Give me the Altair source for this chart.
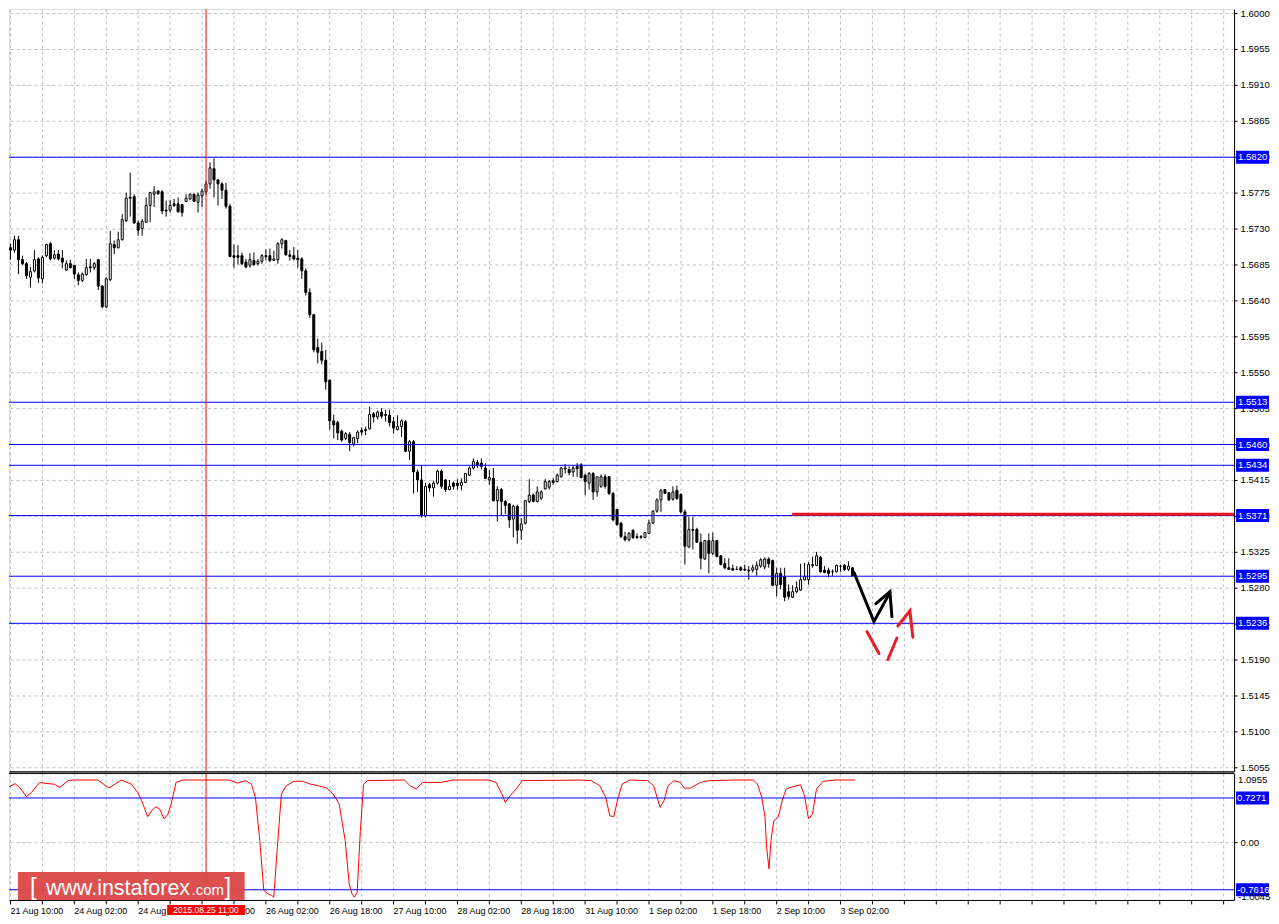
import json
import altair as alt
import pandas as pd

FONT = "Liberation Sans"

# ---------------- candle data (H1 bars, first bar = index -2) ----------------
FIRST_BAR = -2
OPEN = [
    1.5693, 1.5700, 1.5706, 1.5703, 1.5716, 1.5691, 1.5686, 1.5669, 1.5677, 1.5692,
    1.5667, 1.5696, 1.5711, 1.5693, 1.5698, 1.5693, 1.5678, 1.5686, 1.5684, 1.5672,
    1.5665, 1.5672, 1.5682, 1.5681, 1.5691, 1.5658, 1.5632, 1.5666, 1.5710, 1.5706,
    1.5716, 1.5740, 1.5769, 1.5770, 1.5737, 1.5730, 1.5738, 1.5759, 1.5773, 1.5777,
    1.5776, 1.5753, 1.5753, 1.5761, 1.5761, 1.5760, 1.5764, 1.5767, 1.5773, 1.5763,
    1.5771, 1.5776, 1.5786, 1.5805, 1.5791, 1.5786, 1.5778, 1.5758, 1.5696, 1.5696,
    1.5696, 1.5688, 1.5684, 1.5690, 1.5686, 1.5689, 1.5696, 1.5696, 1.5690, 1.5691,
    1.5711, 1.5715, 1.5697, 1.5696, 1.5693, 1.5692, 1.5677, 1.5650, 1.5622, 1.5581,
    1.5576, 1.5565, 1.5540, 1.5489, 1.5487, 1.5476, 1.5467, 1.5472, 1.5460, 1.5467,
    1.5477, 1.5478, 1.5479, 1.5498, 1.5494, 1.5500, 1.5497, 1.5496, 1.5488, 1.5478,
    1.5482, 1.5488, 1.5451, 1.5463, 1.5425, 1.5415, 1.5370, 1.5409, 1.5405, 1.5411,
    1.5426, 1.5415, 1.5403, 1.5411, 1.5411, 1.5408, 1.5412, 1.5421, 1.5430, 1.5437,
    1.5436, 1.5430, 1.5415, 1.5417, 1.5389, 1.5403, 1.5388, 1.5385, 1.5366, 1.5382,
    1.5352, 1.5361, 1.5388, 1.5396, 1.5388, 1.5392, 1.5404, 1.5406, 1.5414, 1.5413,
    1.5419, 1.5429, 1.5428, 1.5425, 1.5432, 1.5434, 1.5421, 1.5411, 1.5423, 1.5400,
    1.5407, 1.5419, 1.5419, 1.5398, 1.5378, 1.5361, 1.5344, 1.5340, 1.5352, 1.5344,
    1.5344, 1.5343, 1.5348, 1.5361, 1.5376, 1.5390, 1.5403, 1.5399, 1.5391, 1.5402,
    1.5397, 1.5375, 1.5331, 1.5353, 1.5353, 1.5337, 1.5316, 1.5339, 1.5323, 1.5339,
    1.5320, 1.5310, 1.5305, 1.5304, 1.5303, 1.5305, 1.5303, 1.5302, 1.5302, 1.5303,
    1.5307, 1.5306, 1.5316, 1.5314, 1.5283, 1.5298, 1.5294, 1.5275, 1.5268, 1.5275,
    1.5277, 1.5290, 1.5290, 1.5309, 1.5308, 1.5318, 1.5302, 1.5302, 1.5300, 1.5300,
    1.5307, 1.5308, 1.5303, 1.5305,
]
HIGH = [
    1.5700, 1.5721, 1.5711, 1.5721, 1.5721, 1.5696, 1.5688, 1.5682, 1.5703, 1.5694,
    1.5696, 1.5711, 1.5713, 1.5703, 1.5703, 1.5703, 1.5690, 1.5691, 1.5684, 1.5675,
    1.5675, 1.5692, 1.5692, 1.5688, 1.5692, 1.5659, 1.5669, 1.5727, 1.5715, 1.5726,
    1.5748, 1.5775, 1.5800, 1.5773, 1.5740, 1.5742, 1.5769, 1.5776, 1.5783, 1.5778,
    1.5778, 1.5765, 1.5766, 1.5767, 1.5769, 1.5761, 1.5773, 1.5774, 1.5774, 1.5775,
    1.5780, 1.5790, 1.5813, 1.5818, 1.5792, 1.5788, 1.5787, 1.5761, 1.5710, 1.5709,
    1.5700, 1.5692, 1.5699, 1.5700, 1.5692, 1.5698, 1.5704, 1.5705, 1.5702, 1.5713,
    1.5718, 1.5716, 1.5703, 1.5707, 1.5703, 1.5694, 1.5680, 1.5655, 1.5623, 1.5592,
    1.5587, 1.5578, 1.5541, 1.5497, 1.5489, 1.5478, 1.5475, 1.5475, 1.5469, 1.5477,
    1.5481, 1.5482, 1.5507, 1.5500, 1.5502, 1.5505, 1.5503, 1.5503, 1.5494, 1.5496,
    1.5491, 1.5490, 1.5465, 1.5465, 1.5428, 1.5433, 1.5411, 1.5411, 1.5414, 1.5428,
    1.5428, 1.5416, 1.5415, 1.5413, 1.5416, 1.5417, 1.5424, 1.5432, 1.5442, 1.5440,
    1.5442, 1.5436, 1.5428, 1.5430, 1.5407, 1.5405, 1.5390, 1.5386, 1.5384, 1.5384,
    1.5367, 1.5390, 1.5416, 1.5398, 1.5407, 1.5402, 1.5416, 1.5415, 1.5417, 1.5423,
    1.5431, 1.5435, 1.5432, 1.5433, 1.5436, 1.5436, 1.5423, 1.5425, 1.5425, 1.5419,
    1.5422, 1.5422, 1.5420, 1.5400, 1.5378, 1.5362, 1.5350, 1.5350, 1.5353, 1.5348,
    1.5346, 1.5350, 1.5365, 1.5377, 1.5392, 1.5404, 1.5403, 1.5400, 1.5407, 1.5408,
    1.5398, 1.5378, 1.5369, 1.5369, 1.5355, 1.5348, 1.5340, 1.5348, 1.5349, 1.5340,
    1.5321, 1.5317, 1.5317, 1.5309, 1.5307, 1.5307, 1.5309, 1.5307, 1.5309, 1.5313,
    1.5317, 1.5318, 1.5318, 1.5315, 1.5305, 1.5305, 1.5305, 1.5284, 1.5283, 1.5288,
    1.5310, 1.5311, 1.5312, 1.5319, 1.5325, 1.5320, 1.5307, 1.5305, 1.5303, 1.5309,
    1.5309, 1.5310, 1.5313, 1.5306,
]
LOW = [
    1.5690, 1.5699, 1.5691, 1.5700, 1.5673, 1.5684, 1.5667, 1.5656, 1.5675, 1.5662,
    1.5661, 1.5694, 1.5690, 1.5691, 1.5690, 1.5680, 1.5677, 1.5680, 1.5667, 1.5659,
    1.5663, 1.5671, 1.5675, 1.5678, 1.5653, 1.5630, 1.5630, 1.5664, 1.5698, 1.5705,
    1.5715, 1.5738, 1.5745, 1.5736, 1.5721, 1.5721, 1.5737, 1.5738, 1.5757, 1.5772,
    1.5748, 1.5745, 1.5750, 1.5757, 1.5750, 1.5745, 1.5763, 1.5766, 1.5763, 1.5750,
    1.5757, 1.5772, 1.5780, 1.5769, 1.5759, 1.5767, 1.5755, 1.5694, 1.5681, 1.5685,
    1.5684, 1.5680, 1.5681, 1.5683, 1.5684, 1.5686, 1.5690, 1.5688, 1.5690, 1.5686,
    1.5705, 1.5696, 1.5690, 1.5690, 1.5681, 1.5667, 1.5646, 1.5618, 1.5575, 1.5561,
    1.5560, 1.5528, 1.5478, 1.5467, 1.5465, 1.5463, 1.5465, 1.5451, 1.5457, 1.5461,
    1.5471, 1.5471, 1.5478, 1.5487, 1.5491, 1.5492, 1.5488, 1.5482, 1.5473, 1.5477,
    1.5469, 1.5450, 1.5440, 1.5398, 1.5400, 1.5368, 1.5368, 1.5400, 1.5394, 1.5409,
    1.5404, 1.5400, 1.5402, 1.5403, 1.5403, 1.5402, 1.5411, 1.5420, 1.5428, 1.5430,
    1.5428, 1.5416, 1.5409, 1.5388, 1.5363, 1.5371, 1.5372, 1.5355, 1.5343, 1.5335,
    1.5340, 1.5359, 1.5386, 1.5387, 1.5387, 1.5390, 1.5403, 1.5403, 1.5409, 1.5412,
    1.5418, 1.5423, 1.5421, 1.5419, 1.5419, 1.5417, 1.5396, 1.5403, 1.5390, 1.5394,
    1.5405, 1.5404, 1.5396, 1.5363, 1.5358, 1.5342, 1.5338, 1.5338, 1.5341, 1.5341,
    1.5341, 1.5342, 1.5347, 1.5360, 1.5374, 1.5375, 1.5398, 1.5389, 1.5389, 1.5390,
    1.5373, 1.5309, 1.5330, 1.5328, 1.5336, 1.5303, 1.5315, 1.5298, 1.5321, 1.5318,
    1.5308, 1.5303, 1.5302, 1.5302, 1.5302, 1.5301, 1.5301, 1.5290, 1.5299, 1.5295,
    1.5305, 1.5303, 1.5305, 1.5282, 1.5269, 1.5278, 1.5263, 1.5265, 1.5267, 1.5273,
    1.5276, 1.5289, 1.5284, 1.5305, 1.5307, 1.5299, 1.5298, 1.5293, 1.5295, 1.5299,
    1.5300, 1.5301, 1.5301, 1.5294,
]
CLOSE = [
    1.5698, 1.5707, 1.5703, 1.5716, 1.5691, 1.5686, 1.5671, 1.5676, 1.5691, 1.5668,
    1.5694, 1.5710, 1.5692, 1.5697, 1.5692, 1.5688, 1.5686, 1.5681, 1.5673, 1.5665,
    1.5673, 1.5681, 1.5681, 1.5686, 1.5658, 1.5632, 1.5667, 1.5711, 1.5706, 1.5716,
    1.5741, 1.5768, 1.5768, 1.5737, 1.5728, 1.5739, 1.5759, 1.5775, 1.5776, 1.5774,
    1.5752, 1.5752, 1.5759, 1.5759, 1.5751, 1.5750, 1.5768, 1.5773, 1.5764, 1.5772,
    1.5777, 1.5786, 1.5806, 1.5791, 1.5786, 1.5778, 1.5758, 1.5695, 1.5694, 1.5694,
    1.5686, 1.5682, 1.5691, 1.5685, 1.5689, 1.5696, 1.5695, 1.5690, 1.5692, 1.5711,
    1.5716, 1.5697, 1.5695, 1.5692, 1.5691, 1.5677, 1.5650, 1.5622, 1.5578, 1.5575,
    1.5565, 1.5538, 1.5489, 1.5484, 1.5474, 1.5465, 1.5473, 1.5462, 1.5468, 1.5475,
    1.5475, 1.5477, 1.5497, 1.5494, 1.5500, 1.5495, 1.5496, 1.5487, 1.5480, 1.5482,
    1.5489, 1.5451, 1.5463, 1.5425, 1.5415, 1.5370, 1.5407, 1.5405, 1.5411, 1.5426,
    1.5407, 1.5403, 1.5407, 1.5407, 1.5408, 1.5412, 1.5423, 1.5430, 1.5438, 1.5433,
    1.5432, 1.5417, 1.5418, 1.5389, 1.5403, 1.5388, 1.5383, 1.5365, 1.5382, 1.5352,
    1.5360, 1.5389, 1.5396, 1.5388, 1.5400, 1.5400, 1.5413, 1.5413, 1.5412, 1.5421,
    1.5430, 1.5430, 1.5424, 1.5430, 1.5429, 1.5418, 1.5413, 1.5423, 1.5400, 1.5419,
    1.5419, 1.5407, 1.5398, 1.5365, 1.5359, 1.5344, 1.5340, 1.5348, 1.5343, 1.5343,
    1.5343, 1.5349, 1.5361, 1.5376, 1.5390, 1.5402, 1.5398, 1.5390, 1.5400, 1.5392,
    1.5375, 1.5332, 1.5353, 1.5352, 1.5337, 1.5317, 1.5339, 1.5323, 1.5339, 1.5319,
    1.5309, 1.5305, 1.5303, 1.5302, 1.5303, 1.5302, 1.5302, 1.5301, 1.5305, 1.5308,
    1.5315, 1.5316, 1.5310, 1.5283, 1.5298, 1.5284, 1.5268, 1.5269, 1.5275, 1.5280,
    1.5290, 1.5294, 1.5309, 1.5308, 1.5320, 1.5300, 1.5299, 1.5298, 1.5300, 1.5308,
    1.5307, 1.5303, 1.5307, 1.5295,
]

# ---------------- axis labels ----------------
PRICE_TICKS = [1.6000, 1.5955, 1.5910, 1.5865, 1.5820, 1.5775, 1.5730, 1.5685,
               1.5640, 1.5595, 1.5550, 1.5505, 1.5460, 1.5415, 1.5370, 1.5325,
               1.5280, 1.5235, 1.5190, 1.5145, 1.5100, 1.5055]
TIME_LABELS = ["21 Aug 10:00", "24 Aug 02:00", "24 Aug 18:00", "25 Aug 10:00",
               "26 Aug 02:00", "26 Aug 18:00", "27 Aug 10:00", "28 Aug 02:00",
               "28 Aug 18:00", "31 Aug 10:00", "1 Sep 02:00", "1 Sep 18:00",
               "2 Sep 10:00", "3 Sep 02:00"]
BARS_PER_LABEL = 16
GRID_BARS = list(range(0, 305, 8))

# ---------------- drawn objects ----------------
H_LEVELS = [1.5820, 1.5513, 1.5460, 1.5434, 1.5371, 1.5295, 1.5236]
RED_LEVEL = 1.5372
RED_START_BAR = 196
VLINE_BAR = 49
VLINE_LABEL = "2015.08.25 11:00"

BLACK_SEG = [0, 0, 0, 1, 1, 1]
BLACK_BAR = [211.5, 216.5, 220.5, 217.0, 220.5, 221.0]
BLACK_PRICE = [1.5299, 1.52375, 1.5274, 1.5260, 1.5275, 1.52438]

RED_SEG = [0, 0, 1, 1, 2, 2, 2]
RED_BAR = [214.75, 217.75, 220.0, 222.25, 222.5, 225.5, 226.25]
RED_PRICE = [1.5225, 1.51975, 1.5190, 1.5217, 1.5232, 1.5251, 1.5218]

# ---------------- indicator ----------------
IND_BAR = [-2.25, -0.7, 1.3, 2.8, 4.1, 5.4, 7.4, 9, 11, 12.5, 14.6, 16, 22, 24.8,
           27.9, 30.4, 32, 33, 34.5, 35.5, 36.5, 37.5, 38.6, 39.6, 40.4, 41.6, 43.2,
           55, 57, 59, 60.5, 61.5, 62.6, 63.6, 64.6, 65.6, 66.1, 67, 68, 69.2, 71.2,
           73.3, 75.3, 77.3, 79.4, 81, 82.5, 84, 85, 85.7, 86.3, 87, 87.8, 88.6, 89.6,
           98.8, 100.3, 101.8, 103.4, 108, 111, 120, 121.8, 123.3, 124.1, 125.3, 126.8,
           128.4, 143, 145.7, 147.8, 149.3, 150.3, 151.3, 152.4, 153.4, 155.4, 159.8,
           161.3, 162.9, 163.9, 164.9, 166.4, 168, 169, 170.5, 173, 175.1, 181.2, 186.3,
           187.3, 188.4, 189.2, 189.6, 190.2, 190.7, 191.4, 192.5, 193.5, 194.5, 196,
           198.1, 199.1, 200.1, 201.1, 202.1, 203.7, 206.7, 211.8]
IND_VAL = [0.62, 0.89, 0.95, 0.86, 0.74, 0.81, 0.97, 0.955, 0.944, 0.89, 1.0, 1.01, 1.01, 0.88,
           1.01, 0.944, 0.81, 0.674, 0.415, 0.51, 0.577, 0.54, 0.378, 0.458, 0.62, 0.97, 1.01,
           1.01, 0.96, 1.0, 0.944, 0.728, 0.027, -0.78, -0.836, -0.863, -0.89, -0.08, 0.78, 0.917, 0.99,
           0.99, 0.944, 0.917, 0.879, 0.78, 0.62, 0.027, -0.674, -0.836, -0.89, -0.81, 0.189, 0.944, 1.0,
           1.01, 0.917, 0.863, 0.971, 0.971, 1.01, 1.01, 0.971, 0.78, 0.647, 0.755, 0.863,
           1.0, 1.01, 1.0, 0.917, 0.728, 0.43, 0.415, 0.728, 0.944, 1.01, 1.0,
           0.917, 0.566, 0.674, 0.917, 1.0, 0.971, 0.879, 0.879, 0.971, 1.0, 1.01, 1.01,
           0.944, 0.728, 0.405, -0.08, -0.43, 0.027, 0.35, 0.405, 0.674, 0.863, 0.9,
           0.933, 0.755, 0.378, 0.458, 0.863, 0.987, 1.01, 1.01]
IND_LEVELS = [0.7271, -0.7616]
IND_TOP_LABEL = "1.0955"
IND_BOTTOM_LABEL = "-1.0045"

WATERMARK = ["[", "www.instaforex", ".com", "]"]
WATERMARK_SIZE = [24, 21.5, 15, 24]

# ---------------- layout ----------------
W = 1228          # plot width  (page x 8 .. 1236)
H_MAIN = 764      # main plot   (page y 8 .. 772)
H_IND = 127       # indicator   (page y 774 .. 901)
GRID = "#c0c0c0"
BLUE = "#0000ff"
RED = "#ff0000"
AX_FS = 9.6

XS = alt.Scale(domain=[-0.25, 306.75], nice=False, zero=False)
YS = alt.Scale(domain=[1.505, 1.6005], nice=False, zero=False)
YI = alt.Scale(domain=[-0.935, 1.1197], nice=False, zero=False)

x_axis_main = alt.Axis(values=GRID_BARS, labels=False, ticks=False, domain=True,
                       domainColor="black", grid=True, gridColor=GRID, gridDash=[3, 3],
                       title=None)
y_axis_main = alt.Axis(orient="right", values=PRICE_TICKS, format=".4f", grid=True,
                       gridColor=GRID, gridDash=[3, 3], tickSize=3, tickColor="black",
                       domainColor="black", labelFont=FONT, labelFontSize=AX_FS,
                       labelColor="black", labelPadding=3, labelOverlap=False,
                       labelBound=False, labelFlush=False, title=None)

label_expr = ("(datum.value % {n} == 0 && datum.value / {n} < {m}) ? {arr}[datum.value / {n}] : ''"
              .format(n=BARS_PER_LABEL, m=len(TIME_LABELS), arr=json.dumps(TIME_LABELS).replace('"', "'")))
x_axis_ind = alt.Axis(values=GRID_BARS, labelExpr=label_expr, tickSize=4, tickColor="black",
                      domainColor="black", grid=True, gridColor=GRID, gridDash=[3, 3],
                      labelAlign="left", labelBaseline="top", labelPadding=3, labelFont=FONT,
                      labelFontSize=9, labelColor="black", labelOverlap=False,
                      labelFlush=False, labelBound=False, title=None)
y_axis_ind = alt.Axis(orient="right", values=[0], format=".2f", grid=True, gridColor=GRID,
                      gridDash=[3, 3], tickSize=3, tickColor="black", domainColor="black",
                      labelFont=FONT, labelFontSize=AX_FS, labelColor="black", labelPadding=3,
                      labelOverlap=False, labelBound=False, labelFlush=False, title=None)


def XM(field="bar"):
    return alt.X(f"{field}:Q", scale=XS, axis=x_axis_main)


def YM(field):
    return alt.Y(f"{field}:Q", scale=YS, axis=y_axis_main)


def XI(field="bar"):
    return alt.X(f"{field}:Q", scale=XS, axis=x_axis_ind)


def YIe(field):
    return alt.Y(f"{field}:Q", scale=YI, axis=y_axis_ind)


# ---------------- tables ----------------
candles = pd.DataFrame({
    "bar": list(range(FIRST_BAR, FIRST_BAR + len(CLOSE))),
    "open": OPEN, "high": HIGH, "low": LOW, "close": CLOSE,
})
levels = pd.DataFrame({"price": H_LEVELS, "label": [f"{v:.4f}" for v in H_LEVELS]})
red_level = pd.DataFrame({"bar": [RED_START_BAR], "bar2": [306.75], "price": [RED_LEVEL]})
vline = pd.DataFrame({"bar": [VLINE_BAR], "label": [VLINE_LABEL]})
black_arrow = pd.DataFrame({"seg": BLACK_SEG, "bar": BLACK_BAR, "price": BLACK_PRICE,
                            "ord": list(range(len(BLACK_BAR)))})
red_arrow = pd.DataFrame({"seg": RED_SEG, "bar": RED_BAR, "price": RED_PRICE,
                          "ord": list(range(len(RED_BAR)))})
ind = pd.DataFrame({"bar": IND_BAR, "val": IND_VAL})
ind_levels = pd.DataFrame({"val": IND_LEVELS, "label": [f"{v:.4f}" for v in IND_LEVELS]})
edge_labels = pd.DataFrame({"label": [IND_TOP_LABEL, IND_BOTTOM_LABEL], "ypos": [7, H_IND - 3]})

# ---------------- main panel ----------------
wicks = alt.Chart(candles).mark_rule(color="black", strokeWidth=1, xOffset=0.5, clip=True).encode(
    x=XM(), y=YM("low"), y2="high:Q")
bodies = alt.Chart(candles).mark_rect(stroke="black", strokeWidth=1, xOffset=-0.5, x2Offset=1.5,
                                      clip=True).encode(
    x=XM(), x2="bar:Q", y=YM("open"), y2="close:Q",
    fill=alt.condition(alt.datum.close >= alt.datum.open, alt.value("white"), alt.value("black")))
hlines = alt.Chart(levels).mark_rule(color=BLUE, strokeWidth=1, yOffset=0.5).encode(y=YM("price"))
redline = alt.Chart(red_level).mark_rule(color="#e8161e", strokeWidth=3).encode(
    x=XM(), x2="bar2:Q", y=YM("price"))
vline_main = alt.Chart(vline).mark_rule(color=RED, strokeWidth=1, xOffset=0.5).encode(x=XM())
arrow_b = alt.Chart(black_arrow).mark_line(color="black", strokeWidth=3, strokeCap="round").encode(
    x=XM(), y=YM("price"), detail="seg:N", order="ord:Q")
arrow_r = alt.Chart(red_arrow).mark_line(color="#ee1c24", strokeWidth=3, strokeCap="round").encode(
    x=XM(), y=YM("price"), detail="seg:N", order="ord:Q")
boxes = alt.Chart(levels).mark_rect(color=BLUE, yOffset=-6, y2Offset=7).encode(
    x=alt.value(W + 2), x2=alt.value(W + 35), y=YM("price"), y2="price:Q")
box_text = alt.Chart(levels).mark_text(color="white", font=FONT, fontSize=AX_FS, align="left",
                                       baseline="middle", yOffset=0.5).encode(
    x=alt.value(W + 4), y=YM("price"), text="label:N")

main = alt.layer(wicks, bodies, hlines, redline, vline_main, arrow_b, arrow_r, boxes, box_text
                 ).properties(width=W, height=H_MAIN)

# ---------------- indicator panel ----------------
top_border = alt.Chart(ind_levels).mark_rule(color="black", strokeWidth=1).encode(
    y=alt.value(0))
ind_line = alt.Chart(ind).mark_line(color=RED, strokeWidth=1, clip=True).encode(
    x=XI(), y=YIe("val"))
ind_hl = alt.Chart(ind_levels).mark_rule(color=BLUE, strokeWidth=1, yOffset=0.5).encode(y=YIe("val"))
vline_ind = alt.Chart(vline).mark_rule(color=RED, strokeWidth=1, xOffset=0.5).encode(x=XI())
ind_boxes = alt.Chart(ind_levels).mark_rect(color=BLUE, yOffset=-6, y2Offset=7).encode(
    x=alt.value(W + 2), x2=alt.value(W + 35), y=YIe("val"), y2="val:Q")
ind_box_text = alt.Chart(ind_levels).mark_text(color="white", font=FONT, fontSize=AX_FS, align="left",
                                               baseline="middle", yOffset=0.5).encode(
    x=alt.value(W + 3), y=YIe("val"), text="label:N")
edge_text = alt.Chart(edge_labels).mark_text(color="black", font=FONT, fontSize=AX_FS, align="left",
                                             baseline="middle").encode(
    x=alt.value(W + 4), y=alt.Y("ypos:Q", scale=None), text="label:N")
date_box = alt.Chart(vline).mark_rect(color=RED, xOffset=-38.5, x2Offset=39.5).encode(
    x=XI(), x2="bar:Q", y=alt.value(H_IND + 5), y2=alt.value(H_IND + 15))
date_text = alt.Chart(vline).mark_text(color="white", font=FONT, fontSize=8.5, align="center",
                                       baseline="middle", xOffset=0.5).encode(
    x=XI(), y=alt.value(H_IND + 10), text="label:N")

wm = pd.DataFrame({"t": WATERMARK, "x": [21, 37, 183, 216], "size": WATERMARK_SIZE})
wm_box = alt.Chart(ind_levels).mark_rect(color="#dc4a4a", opacity=0.82).encode(
    x=alt.value(9), x2=alt.value(236), y=alt.value(99), y2=alt.value(H_IND))
wm_text = alt.Chart(wm).mark_text(color="white", font=FONT, align="left", baseline="alphabetic").encode(
    x=alt.X("x:Q", scale=None), y=alt.value(122), text="t:N",
    size=alt.Size("size:Q", scale=None, legend=None))

ind_panel = alt.layer(ind_line, ind_hl, vline_ind, top_border, wm_box, wm_text, ind_boxes,
                      ind_box_text, edge_text, date_box, date_text
                      ).properties(width=W, height=H_IND)

chart = alt.vconcat(main, ind_panel, spacing=2, bounds="flush").properties(
    padding={"left": 0, "top": -2, "right": -1, "bottom": -1}
).configure_view(stroke=None).configure(background="white")

chart.save("out.html", embed_options={"renderer": "svg", "actions": False})
